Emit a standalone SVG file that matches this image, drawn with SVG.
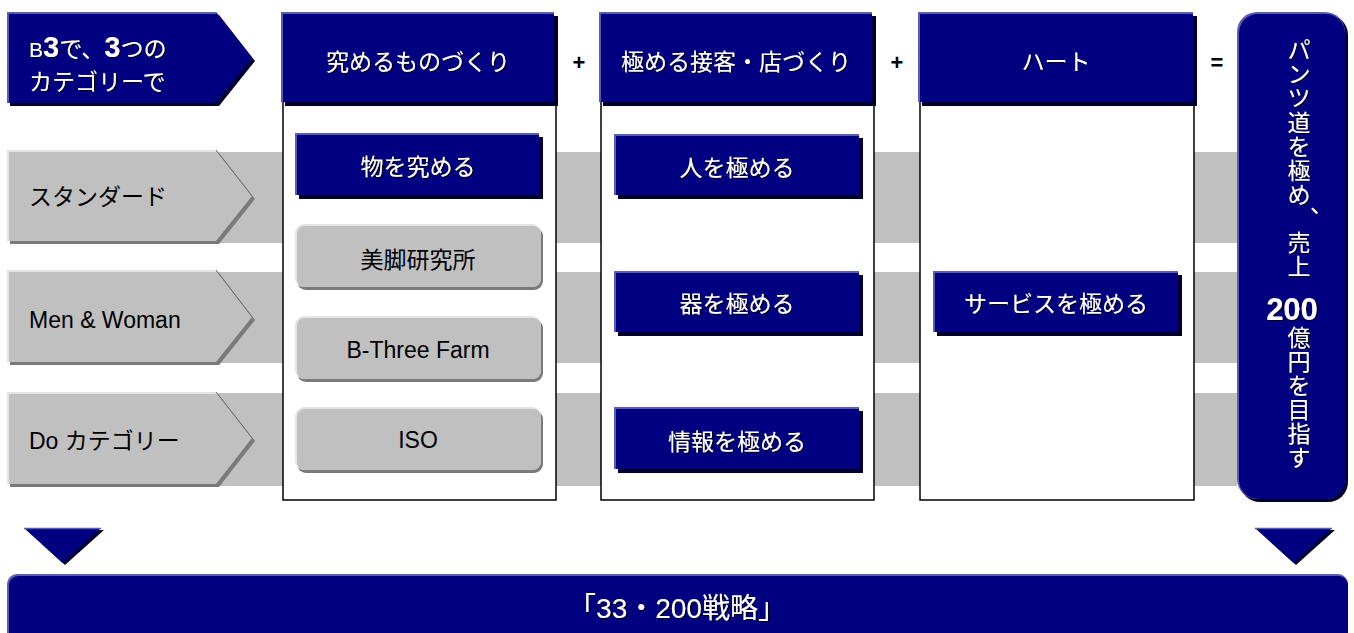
<svg xmlns="http://www.w3.org/2000/svg" width="1354" height="633" viewBox="0 0 1354 633">
<defs>
<filter id="ts" x="-10%" y="-30%" width="120%" height="160%">
<feDropShadow dx="1" dy="1" stdDeviation="0" flood-color="#000" flood-opacity="1"/>
</filter>
</defs>
<style>
text{font-family:"Liberation Sans","Noto Sans CJK JP",sans-serif}
.nshadow{fill:#00002e}
.nlight{fill:#5b5bb0}
.navy{fill:#000080}
.gshadow{fill:#7a7a7a}
.glight{fill:#e4e4e4}
.gray{fill:#c0c0c0}
.band{fill:#c0c0c0}
.col{fill:#fff;stroke:#000;stroke-width:1.5}
.wt{fill:#fff;font-size:23px;filter:url(#ts)}
.bt{fill:#000;font-size:23px}
.op{fill:#000;font-size:22px;font-weight:bold;text-anchor:middle}
.c{text-anchor:middle}
.gedge{fill:none;stroke:#e4e4e4;stroke-width:2}
.gdiag{fill:none;stroke:#6e6e6e;stroke-width:1}
.nedge{fill:none;stroke:#5b5bb0;stroke-width:2}
</style>

<g id="bands">
<rect class="band" x="216" y="152" width="1021" height="91"/>
<rect class="band" x="216" y="272" width="1021" height="91"/>
<rect class="band" x="216" y="393" width="1021" height="93"/>
</g>

<g id="columns">
<rect class="col" x="283" y="100" width="273" height="400"/>
<rect class="col" x="601" y="100" width="273" height="400"/>
<rect class="col" x="920" y="100" width="274" height="400"/>
</g>

<g id="intro">
<polygon class="nshadow" points="10,15 219,15 255,61 219,106 10,106"/>
<polygon class="navy" points="7,12 216,12 252,58 216,103 7,103"/>
<polyline class="nedge" points="8,103 8,13 216,13"/>
<text class="wt" y="57"><tspan x="29" style="font-size:21px">B</tspan><tspan style="font-size:29px;font-weight:bold">3</tspan><tspan>で、</tspan><tspan style="font-size:29px;font-weight:bold">3</tspan><tspan>つの</tspan></text>
<text class="wt" x="29" y="90">カテゴリーで</text>
</g>

<g id="header1">
<rect class="nshadow" x="285" y="16" width="273" height="90"/>
<rect class="nlight" x="281" y="12" width="273" height="90"/>
<rect class="navy" x="283" y="14" width="271" height="88"/>
<text class="wt c" x="418" y="70">究めるものづくり</text>
</g>
<text class="op" x="579" y="70">+</text>
<g id="header2">
<rect class="nshadow" x="603" y="16" width="273" height="90"/>
<rect class="nlight" x="599" y="12" width="273" height="90"/>
<rect class="navy" x="601" y="14" width="271" height="88"/>
<text class="wt c" x="736" y="70">極める接客・店づくり</text>
</g>
<text class="op" x="897" y="70">+</text>
<g id="header3">
<rect class="nshadow" x="922" y="16" width="275" height="90"/>
<rect class="nlight" x="918" y="12" width="275" height="90"/>
<rect class="navy" x="920" y="14" width="273" height="88"/>
<text class="wt c" x="1056" y="70">ハート</text>
</g>
<text class="op" x="1217" y="70">=</text>

<g id="goal">
<rect class="nshadow" x="1240" y="15" width="108" height="487" rx="20"/>
<rect class="nlight" x="1237" y="12" width="108" height="487" rx="20"/>
<rect class="navy" x="1239" y="14" width="106" height="485" rx="19"/>
<text class="wt c" x="1299" y="58">パ</text>
<text class="wt c" x="1299" y="82">ン</text>
<text class="wt c" x="1299" y="106">ツ</text>
<text class="wt c" x="1299" y="131">道</text>
<text class="wt c" x="1299" y="155">を</text>
<text class="wt c" x="1299" y="179">極</text>
<text class="wt c" x="1299" y="203">め</text>
<text class="wt" x="1310" y="212">、</text>
<text class="wt c" x="1299" y="251">売</text>
<text class="wt c" x="1299" y="275">上</text>
<text class="wt c" x="1292" y="320" style="font-size:31px;font-weight:bold">200</text>
<text class="wt c" x="1299" y="346">億</text>
<text class="wt c" x="1299" y="370">円</text>
<text class="wt c" x="1299" y="394">を</text>
<text class="wt c" x="1299" y="418">目</text>
<text class="wt c" x="1299" y="442">指</text>
<text class="wt c" x="1299" y="466">す</text>
</g>

<g id="row-standard">
<polygon class="gshadow" points="10,153 219,153 255,199 219,244 10,244"/>
<polygon class="gray" points="7,150 216,150 252,196 216,241 7,241"/>
<polyline class="gedge" points="8,241 8,151 216,151"/>
<line class="gdiag" x1="216" y1="150" x2="252" y2="196"/>
<text class="bt" x="29" y="205">スタンダード</text>
</g>
<g id="row-menwoman">
<polygon class="gshadow" points="10,273 219,273 255,320 219,365 10,365"/>
<polygon class="gray" points="7,270 216,270 252,317 216,362 7,362"/>
<polyline class="gedge" points="8,362 8,271 216,271"/>
<line class="gdiag" x1="216" y1="270" x2="252" y2="317"/>
<text class="bt" x="29" y="328">Men &amp; Woman</text>
</g>
<g id="row-do">
<polygon class="gshadow" points="10,395 219,395 255,441 219,487 10,487"/>
<polygon class="gray" points="7,392 216,392 252,438 216,484 7,484"/>
<polyline class="gedge" points="8,484 8,393 216,393"/>
<line class="gdiag" x1="216" y1="392" x2="252" y2="438"/>
<text class="bt" x="29" y="449">Do カテゴリー</text>
</g>

<g id="box-mono">
<rect class="nshadow" x="299" y="137" width="244" height="62"/>
<rect class="nlight" x="295" y="133" width="244" height="62"/>
<rect class="navy" x="297" y="135" width="242" height="60"/>
<text class="wt c" x="418" y="175">物を究める</text>
</g>
<g id="box-bikyaku">
<rect class="gshadow" x="297" y="227" width="246" height="63" rx="9"/>
<rect class="glight" x="295" y="224" width="246" height="63" rx="9"/>
<rect class="gray" x="297" y="226" width="244" height="61" rx="8"/>
<text class="bt c" x="418" y="268">美脚研究所</text>
</g>
<g id="box-farm">
<rect class="gshadow" x="297" y="319" width="246" height="63" rx="9"/>
<rect class="glight" x="295" y="316" width="246" height="63" rx="9"/>
<rect class="gray" x="297" y="318" width="244" height="61" rx="8"/>
<text class="bt c" x="418" y="358">B-Three Farm</text>
</g>
<g id="box-iso">
<rect class="gshadow" x="297" y="410" width="246" height="63" rx="9"/>
<rect class="glight" x="295" y="407" width="246" height="63" rx="9"/>
<rect class="gray" x="297" y="409" width="244" height="61" rx="8"/>
<text class="bt c" x="418" y="448">ISO</text>
</g>

<g id="box-hito">
<rect class="nshadow" x="618" y="138" width="245" height="61"/>
<rect class="nlight" x="614" y="134" width="245" height="61"/>
<rect class="navy" x="616" y="136" width="243" height="59"/>
<text class="wt c" x="737" y="176">人を極める</text>
</g>
<g id="box-utsuwa">
<rect class="nshadow" x="618" y="275" width="245" height="61"/>
<rect class="nlight" x="614" y="271" width="245" height="61"/>
<rect class="navy" x="616" y="273" width="243" height="59"/>
<text class="wt c" x="737" y="312">器を極める</text>
</g>
<g id="box-joho">
<rect class="nshadow" x="618" y="411" width="245" height="62"/>
<rect class="nlight" x="614" y="407" width="245" height="62"/>
<rect class="navy" x="616" y="409" width="243" height="60"/>
<text class="wt c" x="737" y="450">情報を極める</text>
</g>
<g id="box-service">
<rect class="nshadow" x="937" y="275" width="245" height="61"/>
<rect class="nlight" x="933" y="271" width="245" height="61"/>
<rect class="navy" x="935" y="273" width="243" height="59"/>
<text class="wt c" x="1056" y="312">サービスを極める</text>
</g>

<g id="connectors">
<polygon class="nshadow" points="27,530 104,530 65,565"/>
<polygon class="navy" points="24,528 101,528 62.5,563"/>
<line x1="24" y1="528.5" x2="101" y2="528.5" stroke="#5b5bb0" stroke-width="1.5"/>
<polygon class="nshadow" points="1258,530 1335,530 1296,565"/>
<polygon class="navy" points="1255,528 1332,528 1293.5,563"/>
<line x1="1255" y1="528.5" x2="1332" y2="528.5" stroke="#5b5bb0" stroke-width="1.5"/>
</g>

<g id="strategy">
<rect class="nlight" x="7" y="574" width="1341" height="75" rx="10"/>
<rect class="navy" x="9" y="576" width="1339" height="73" rx="9"/>
<text class="wt c" x="677" y="618" style="font-size:28px">「33・200戦略」</text>
</g>
</svg>
